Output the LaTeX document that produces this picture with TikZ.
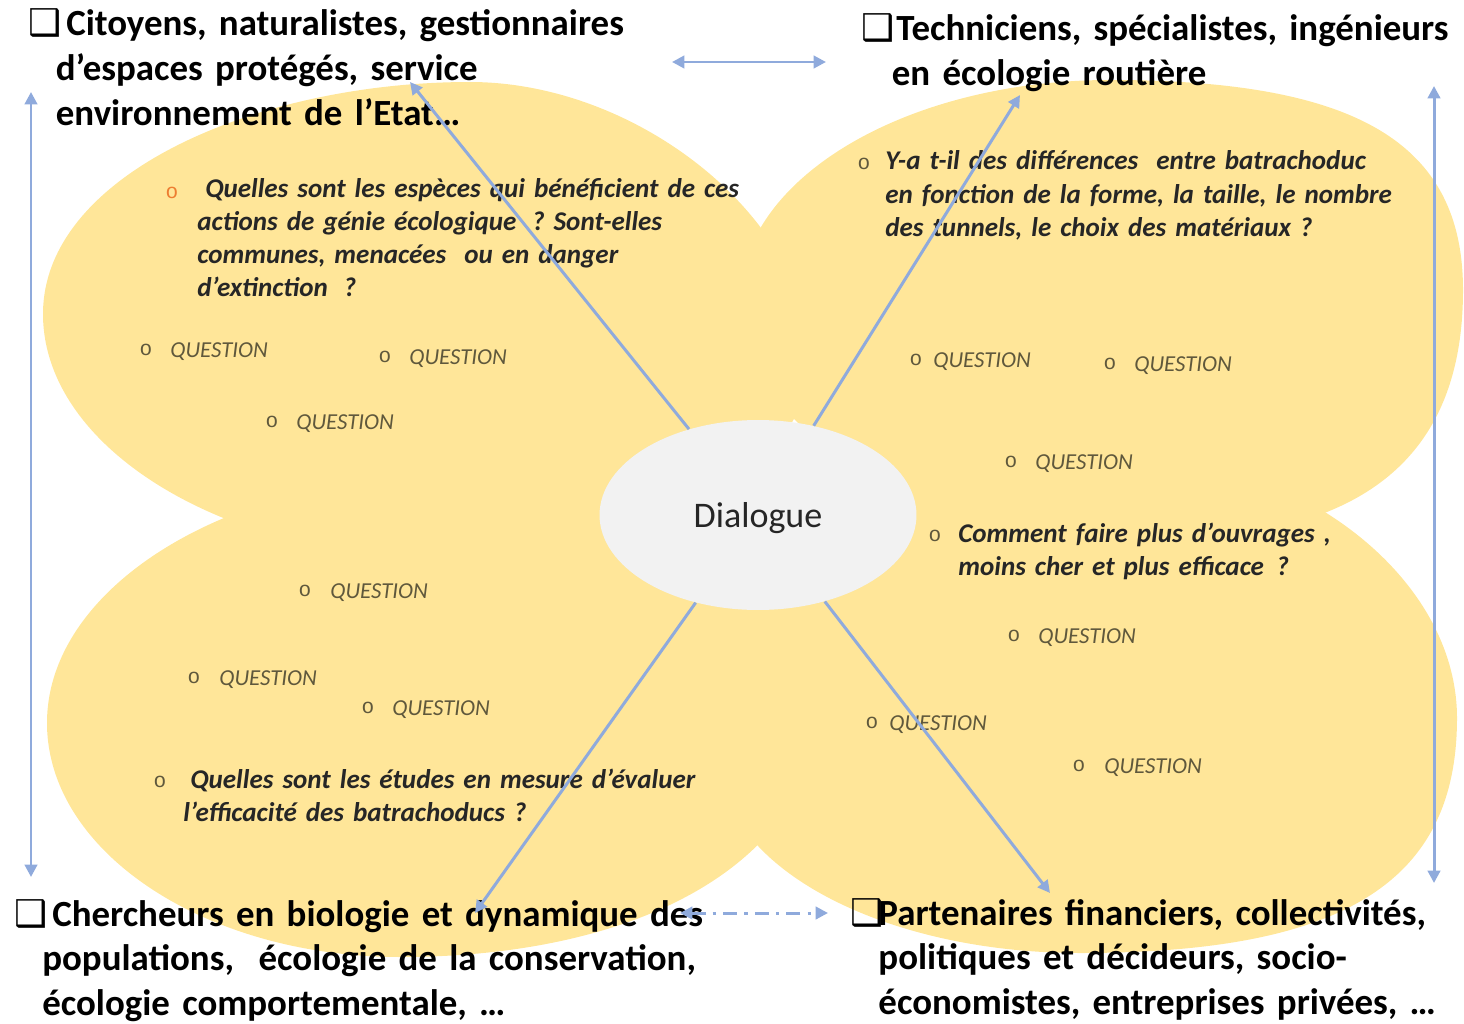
\documentclass[tikz,border=0pt]{standalone}
\usepackage{fontspec}
\setmainfont{Carlito}
\newfontfamily\boxfont{DejaVu Sans}
\newfontfamily\pucefont{Liberation Mono}
\usepackage{tikz}
\usetikzlibrary{arrows.meta,shapes.geometric,positioning}
\definecolor{petal}{RGB}{255,230,153}
\definecolor{flecheblue}{RGB}{143,170,220}
\definecolor{dlgfill}{RGB}{242,242,242}
\definecolor{puceorange}{RGB}{237,125,49}
\definecolor{asktext}{RGB}{38,38,38}
\definecolor{qgray}{RGB}{95,88,60}
\frenchspacing
\tikzset{
  acteur/.style={anchor=base west, inner sep=0pt, text width=15cm, align=left,
    font=\fontsize{21}{25.6}\selectfont\bfseries},
  ask/.style={anchor=base west, inner sep=0pt, text width=12cm, align=left,
    text=asktext, font=\fontsize{15.4}{18.8}\selectfont\bfseries\itshape},
  qlabel/.style={anchor=base west, inner sep=0pt, text=qgray,
    font=\fontsize{13}{15}\selectfont\itshape},
  puce/.style={inner sep=0pt, text=qgray, font=\fontsize{12}{14}\selectfont\pucefont},
  fleche/.style={draw=flecheblue, line width=1.7pt, -{Triangle[length=7pt,width=7pt]}},
  doublefleche/.style={fleche, {Triangle[length=7pt,width=7pt]}-{Triangle[length=7pt,width=7pt]}}
}

\begin{document}
\begin{tikzpicture}[x=0.02cm, y=-0.02cm]
    \useasboundingbox (0,0) rectangle (1464,1024);

    % Pétales
    \fill[petal] (43,314) .. controls (43,175) and (256,82) .. (470,82)
        .. controls (640,82) and (810,221) .. (810,360)
        .. controls (810,470) and (648,560) .. (450,560)
        .. controls (226,560) and (43,449) .. (43,314) -- cycle;
    \fill[petal] (740,300) .. controls (740,179) and (906,80) .. (1110,80)
        .. controls (1357,80) and (1463,143) .. (1463,290)
        .. controls (1463,460) and (1360,540) .. (1150,540)
        .. controls (924,540) and (740,432) .. (740,300) -- cycle;
    \fill[petal] (720,760) .. controls (720,590) and (885,450) .. (1100,450)
        .. controls (1296,450) and (1457,576) .. (1457,718)
        .. controls (1457,882) and (1344,953) .. (1080,953)
        .. controls (882,953) and (720,866) .. (720,760) -- cycle;
    \fill[petal] (47,723) .. controls (47,587) and (228,475) .. (450,475)
        .. controls (654,475) and (820,576) .. (820,700)
        .. controls (820,854) and (652,957) .. (400,957)
        .. controls (206,957) and (47,852) .. (47,723) -- cycle;

    % Dialogue
    \node[ellipse, fill=dlgfill, minimum width=6.34cm, minimum height=3.8cm, inner sep=0pt,
        text depth=0pt, text=asktext, font=\fontsize{20.5}{24}\selectfont] (dlg) at (758,515) {Dialogue};

    % Acteurs
    \node[acteur] (tl) at (28,36) {\makebox[21.6pt][l]{\boxfont ❑}Citoyens, naturalistes, gestionnaires\\
        \hspace*{15.7pt}d’espaces protégés, service\\
        \hspace*{15.7pt}environnement de l’Etat…};
    \node[acteur] (tr) at (861,41) {\makebox[20pt][l]{\boxfont ❑}Techniciens, spécialistes, ingénieurs\\
        \hspace*{17.4pt}en écologie routière};
    \node[acteur] (bl) at (14,926) {\makebox[21.6pt][l]{\boxfont ❑}Chercheurs en biologie et dynamique des\\
        \hspace*{15.9pt}populations, \ écologie de la conservation,\\
        \hspace*{15.9pt}écologie comportementale, …};
    \node[acteur] (br) at (850,925) {\makebox[16pt][l]{\boxfont ❑}Partenaires financiers, collectivités,\\
        \hspace*{16pt}politiques et décideurs, socio-\\
        \hspace*{16pt}économistes, entreprises privées, …};

    % Questions haut gauche
    \node[puce, text=puceorange] (tlp1) at (172,193) {o};
    \node[ask] (tlq1) at (197,197) {\hspace*{4.5pt}Quelles sont les espèces qui bénéficient de ces\\
        actions de génie écologique\hspace{9pt}? Sont-elles\\
        communes, menacées ~ou en danger\\
        d’extinction\hspace{9pt}?};
    \node[puce] (tlp2) at (146,350) {o};
    \node[qlabel] (tlq2) at (170,357) {QUESTION};
    \node[puce] (tlp3) at (385,357) {o};
    \node[qlabel] (tlq3) at (409,364) {QUESTION};
    \node[puce] (tlp4) at (272,422) {o};
    \node[qlabel] (tlq4) at (296,429) {QUESTION};

    % Questions haut droite
    \node[puce] (trp1) at (864,164) {o};
    \node[ask] (trq1) at (885,170) {Y-a t-il des différences ~entre batrachoduc\\
        en fonction de la forme, la taille, le nombre\\
        des tunnels, le choix des matériaux ?};
    \node[puce] (trp2) at (916,360) {o};
    \node[qlabel] (trq2) at (933,367) {QUESTION};
    \node[puce] (trp3) at (1110,364) {o};
    \node[qlabel] (trq3) at (1134,371) {QUESTION};
    \node[puce] (trp4) at (1011,462) {o};
    \node[qlabel] (trq4) at (1035,469) {QUESTION};
    \node[puce] (trp5) at (935,536) {o};
    \node[ask] (trq5) at (958,542) {Comment faire plus d’ouvrages ,\\
        moins cher et plus efficace\hspace{7pt}?};

    % Questions bas droite
    \node[puce] (brp1) at (1014,636) {o};
    \node[qlabel] (brq1) at (1038,643) {QUESTION};
    \node[puce] (brp2) at (872,723) {o};
    \node[qlabel] (brq2) at (889,730) {QUESTION};
    \node[puce] (brp3) at (1079,766) {o};
    \node[qlabel] (brq3) at (1104,773) {QUESTION};

    % Questions bas gauche
    \node[puce] (blp1) at (305,591) {o};
    \node[qlabel] (blq1) at (330,598) {QUESTION};
    \node[puce] (blp2) at (194,678) {o};
    \node[qlabel] (blq2) at (219,685) {QUESTION};
    \node[puce] (blp3) at (368,708) {o};
    \node[qlabel] (blq3) at (392,715) {QUESTION};
    \node[puce] (blp4) at (160,782) {o};
    \node[ask] (blq4) at (183,788) {\hspace*{4pt}Quelles sont les études en mesure d’évaluer\\
        l’efficacité des batrachoducs ?};

    % Flèches
    \coordinate (tlend) at (410,82);
    \coordinate (trend) at (1020,95);
    \coordinate (blend) at (475,913);
    \coordinate (brend) at (1050,893);
    \draw[fleche] (dlg) -- (tlend);
    \draw[fleche] (dlg) -- (trend);
    \draw[fleche] (dlg) -- (blend);
    \draw[fleche] (dlg) -- (brend);

    \coordinate (hautG) at (672,62);
    \coordinate (hautD) at (826,62);
    \coordinate (gaucheH) at (31,92);
    \coordinate (gaucheB) at (31,877);
    \coordinate (droiteH) at (1434,86);
    \coordinate (droiteB) at (1434,883);
    \coordinate (basG) at (680,913);
    \coordinate (basD) at (828,913);
    \draw[doublefleche] (hautG) -- (hautD);
    \draw[doublefleche] (gaucheH) -- (gaucheB);
    \draw[doublefleche] (droiteH) -- (droiteB);
    \draw[doublefleche, dash pattern=on 8pt off 4pt on 2pt off 4pt] (basG) -- (basD);
\end{tikzpicture}
\end{document}
